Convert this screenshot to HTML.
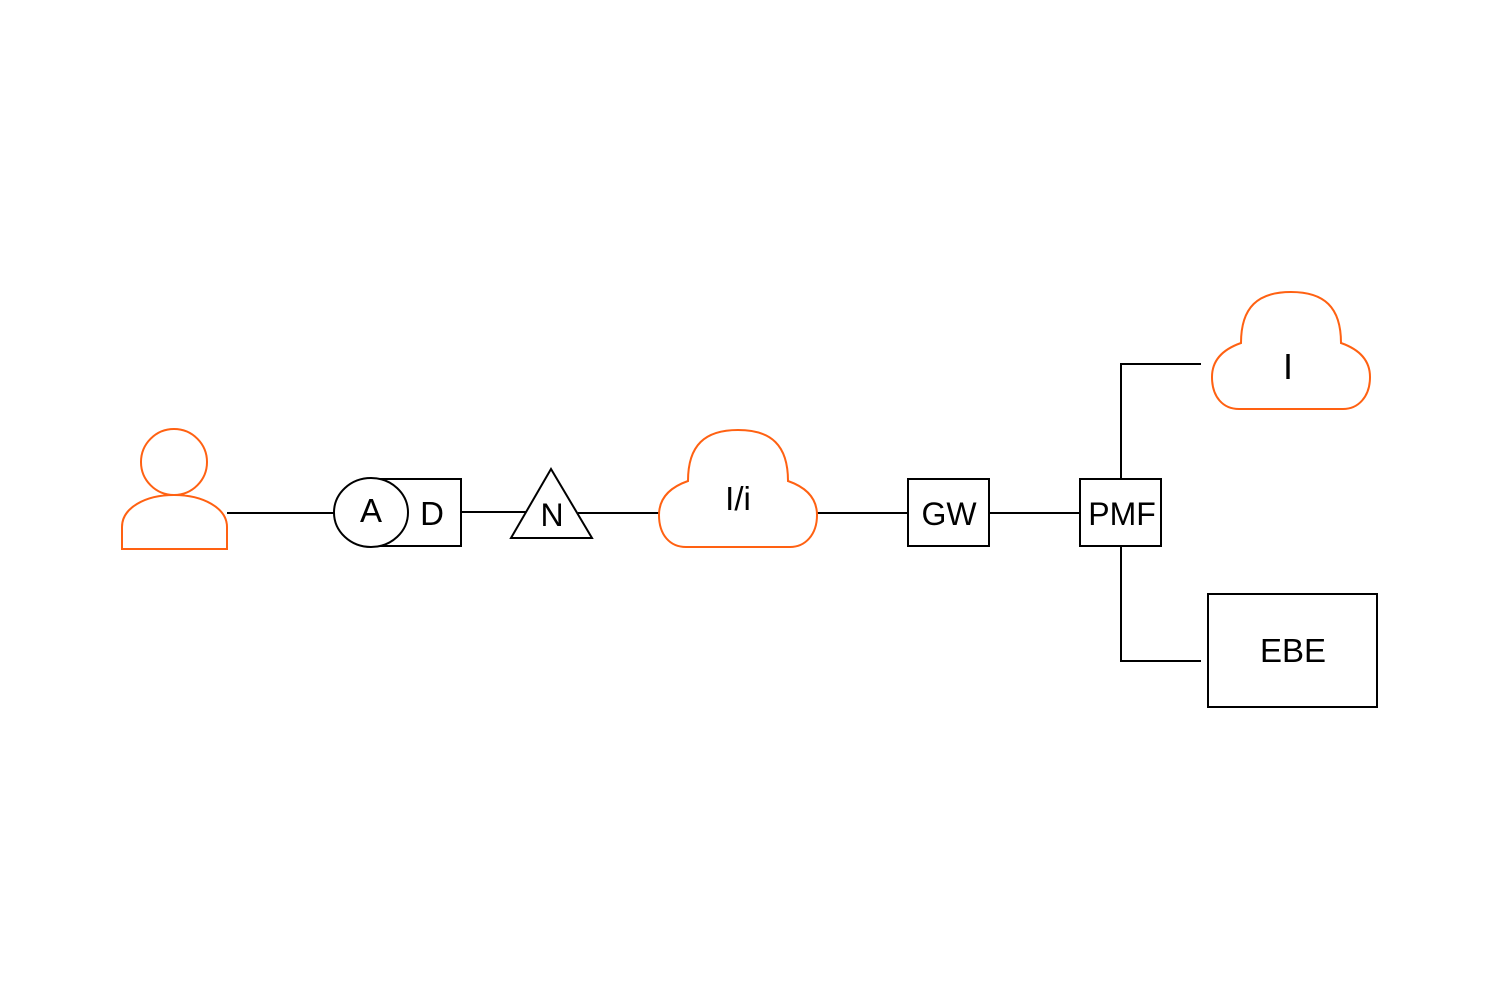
<!DOCTYPE html>
<html><head><meta charset="utf-8"><style>
html,body{margin:0;padding:0;background:#fff;}
svg{display:block;}
text{font-family:"Liberation Sans",sans-serif;fill:#000;}
</style></head><body>
<svg width="1500" height="1000" viewBox="0 0 1500 1000" xmlns="http://www.w3.org/2000/svg">
<g fill="none" stroke="#000" stroke-width="2">
<line x1="227" y1="513" x2="334" y2="513"/>
<line x1="461" y1="512" x2="526" y2="512"/>
<line x1="578" y1="513" x2="659" y2="513"/>
<line x1="817" y1="513" x2="908" y2="513"/>
<line x1="989" y1="513" x2="1080" y2="513"/>
<polyline points="1121,479 1121,364 1201,364"/>
<polyline points="1121,546 1121,661 1201,661"/>
<rect x="371" y="479" width="90" height="67" fill="#fff"/>
<ellipse cx="371" cy="512.5" rx="37" ry="34.5" fill="#fff"/>
<polygon points="551,469 511,538 592,538" fill="#fff"/>
<rect x="908" y="479" width="81" height="67"/>
<rect x="1080" y="479" width="81" height="67"/>
<rect x="1208" y="594" width="169" height="113"/>
</g>
<g fill="#fff" stroke="#ff6112" stroke-width="2">
<circle cx="174" cy="462" r="33"/>
<path d="M122,549 L122,527 C122,508 145,495 174,495 C203,495 227,508 227,527 L227,549 Z"/>
<path d="M688,481 C688,445 705,430 738,430 C771,430 788,445 788,481 C808,488 817,500 817,515 C817,535 805,547 790,547 L686,547 C670,547 659,535 659,515 C659,500 668,488 688,481 Z"/>
<path transform="translate(553,-138)" d="M688,481 C688,445 705,430 738,430 C771,430 788,445 788,481 C808,488 817,500 817,515 C817,535 805,547 790,547 L686,547 C670,547 659,535 659,515 C659,500 668,488 688,481 Z"/>
</g>
<g font-size="33" text-anchor="middle">
<text x="371" y="522">A</text>
<text x="432" y="525">D</text>
<text x="552" y="526" font-size="32">N</text>
<text x="738" y="510">I/i</text>
<text x="949" y="525" font-size="32">GW</text>
<text x="1122" y="525" font-size="32">PMF</text>
<text x="1288" y="379" font-size="36">I</text>
<text x="1293" y="662">EBE</text>
</g>
</svg>
</body></html>
